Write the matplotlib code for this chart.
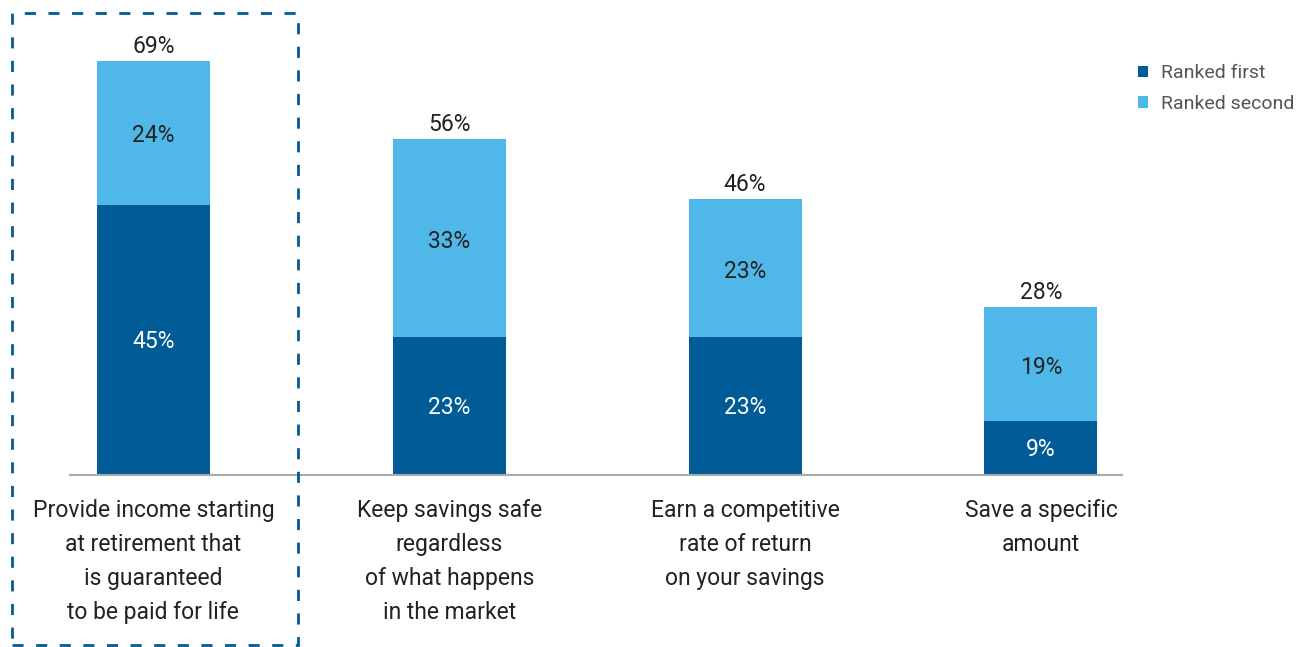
import matplotlib.pyplot as plt
from matplotlib.patches import Rectangle

categories = [
    "Provide income starting\nat retirement that\nis guaranteed\nto be paid for life",
    "Keep savings safe\nregardless\nof what happens\nin the market",
    "Earn a competitive\nrate of return\non your savings",
    "Save a specific\namount",
]
ranked_first = [45, 23, 23, 9]
ranked_second = [24, 33, 23, 19]
totals = [69, 56, 46, 28]

dark_blue = "#005b96"
light_blue = "#4fb8e8"

plt.rcParams['font.family'] = ['Roboto', 'DejaVu Sans']

fig = plt.figure(figsize=(13.09, 6.47), dpi=100)
W, H = 1309, 647
ax = fig.add_axes([70 / W, (H - 475) / H, 1052 / W, 450 / H])

x = list(range(len(categories)))
width = 0.382
ax.bar(x, ranked_first, width, color=dark_blue, label="Ranked first")
ax.bar(x, ranked_second, width, bottom=ranked_first, color=light_blue,
       label="Ranked second")

for i in x:
    ax.text(i, ranked_first[i] / 2 - 0.3, f"{ranked_first[i]}%", ha="center",
            va="center", color="white", fontsize=16.5)
    ax.text(i, ranked_first[i] + ranked_second[i] / 2 - 0.5,
            f"{ranked_second[i]}%", ha="center", va="center",
            color="#222222", fontsize=16.5)
    ax.text(i, totals[i] + 0.5, f"{totals[i]}%", ha="center", va="bottom",
            color="#222222", fontsize=16.5)

ax.set_xlim(-0.282, 3.274)
ax.set_ylim(0, 75)
for s in ["top", "right", "left"]:
    ax.spines[s].set_visible(False)
ax.spines["bottom"].set_color("#aaaaaa")
ax.spines["bottom"].set_linewidth(1.5)
ax.set_yticks([])
ax.set_xticks(x)
ax.set_xticklabels(categories, fontsize=16.5, color="#222222", linespacing=1.62)
ax.tick_params(axis="x", length=0, pad=17)

# dashed highlight around the first category
fig.patches.append(Rectangle((12 / W, 2 / H), 286 / W, 632 / H,
                             transform=fig.transFigure, fill=False,
                             edgecolor=dark_blue, linewidth=2,
                             linestyle=(0, (4, 4.5))))

leg = fig.legend(loc="upper left", bbox_to_anchor=(1120 / W, 1 - 47 / H),
                 frameon=False, fontsize=14, handlelength=0.55,
                 handleheight=0.55, handletextpad=0.65, labelspacing=0.65,
                 labelcolor="#555555")

plt.savefig("out.png", dpi=100)
